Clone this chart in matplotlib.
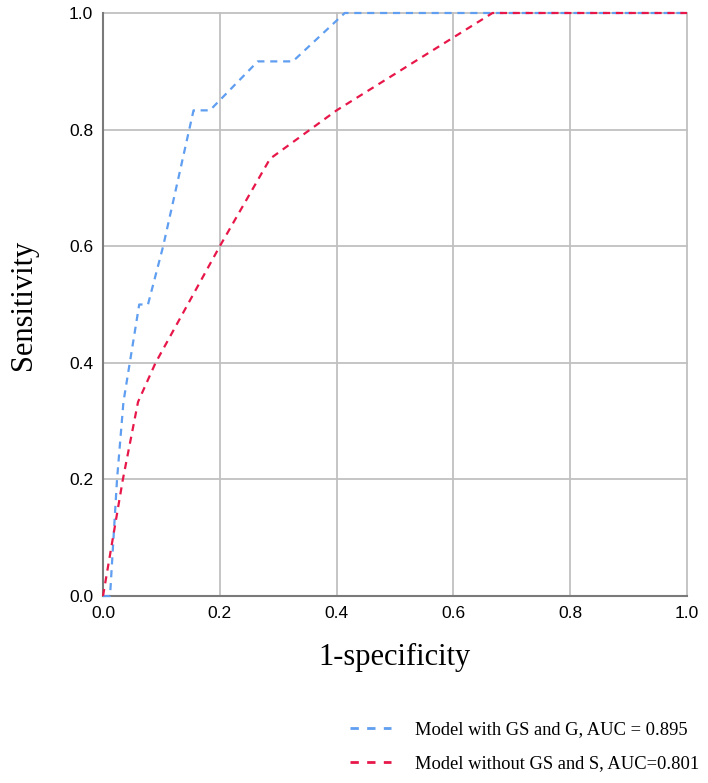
import matplotlib
matplotlib.use('Agg')
import matplotlib.pyplot as plt
from matplotlib.lines import Line2D

# ROC curve points
fpr_gs = [0.0, 0.012, 0.024, 0.035, 0.062, 0.077, 0.103, 0.155, 0.183, 0.265, 0.325, 0.414, 1.0]
tpr_gs = [0.0, 0.0, 0.2, 0.333, 0.5, 0.5, 0.6, 0.833, 0.833, 0.917, 0.917, 1.0, 1.0]

fpr_nogs = [0.0, 0.034, 0.06, 0.09, 0.2, 0.286, 0.4, 0.667, 1.0]
tpr_nogs = [0.0, 0.2, 0.333, 0.4, 0.6, 0.75, 0.833, 1.0, 1.0]

labels = ['Model with GS and G, AUC = 0.895', 'Model without GS and S, AUC=0.801']
colors = ['#5f9ef0', '#e8174a']
ticks = [0.0, 0.2, 0.4, 0.6, 0.8, 1.0]

fig = plt.figure(figsize=(7.08, 7.83), dpi=100)
ax = fig.add_axes([0.1455, 0.2388, 0.8248, 0.7446])

dash = (0, (3.2, 2.6))
ax.plot(fpr_gs, tpr_gs, color=colors[0], lw=1.6, linestyle=dash, clip_on=False, zorder=3)
ax.plot(fpr_nogs, tpr_nogs, color=colors[1], lw=1.6, linestyle=dash, clip_on=False, zorder=4)

ax.set_xlim(0, 1)
ax.set_ylim(0, 1)
ax.set_xticks(ticks)
ax.set_yticks(ticks)
ax.set_xticklabels([f'{t:.1f}' for t in ticks])
ax.set_yticklabels([f'{t:.1f}' for t in ticks])
ax.grid(True, color='#c0c0c0', lw=1.3)
ax.set_axisbelow(True)
for g in ax.get_xgridlines() + ax.get_ygridlines():
    g.set_clip_on(False)
for s in ['top', 'right']:
    ax.spines[s].set_visible(False)
for s in ['left', 'bottom']:
    ax.spines[s].set_color('#7a7a7a')
    ax.spines[s].set_linewidth(1.5)
ax.tick_params(length=0, pad=7, labelsize=12.5, colors='#000000')
for lab in ax.get_xticklabels() + ax.get_yticklabels():
    lab.set_family(['Liberation Sans', 'DejaVu Sans'])

ax.set_xlabel('1-specificity', family='Liberation Serif', fontsize=22, labelpad=16)
ax.set_ylabel('Sensitivity', family='Liberation Serif', fontsize=22, labelpad=22)

handles = [Line2D([], [], color=c, lw=2, linestyle=(0, (3, 3))) for c in colors]
fig.legend(handles, labels, loc='upper left', bbox_to_anchor=(0.484, 0.088),
           bbox_transform=fig.transFigure, frameon=False, borderaxespad=0,
           prop={'family': 'Liberation Serif', 'size': 13.3},
           handlelength=2.2, handletextpad=1.3, labelspacing=0.9)

fig.savefig('out.png', dpi=100, facecolor='white')
